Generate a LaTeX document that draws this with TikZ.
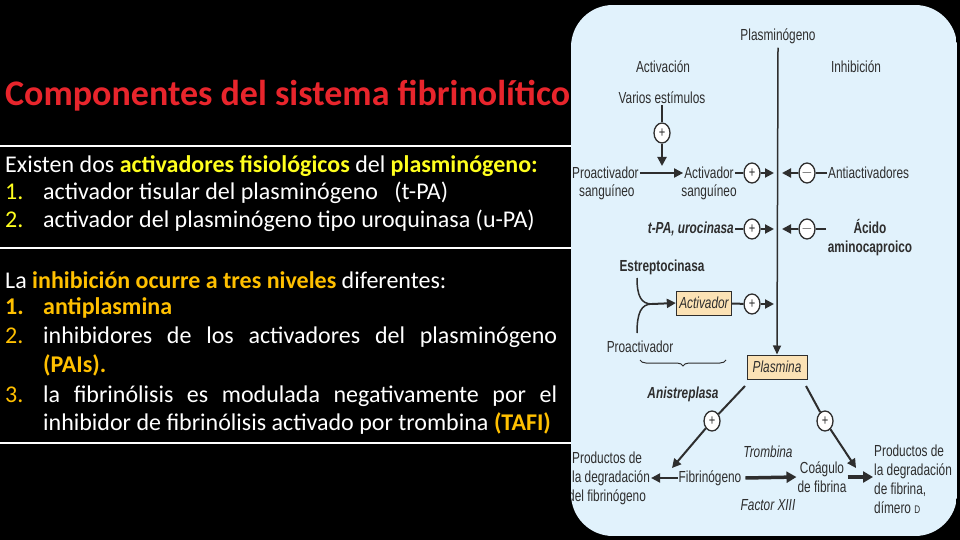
\documentclass[tikz,border=0pt]{standalone}
\usepackage{fontspec}
\setmainfont{Carlito}
\newfontfamily\diagfont[FakeStretch=0.74]{Liberation Sans}
\usetikzlibrary{arrows.meta,decorations.pathreplacing,shapes.geometric}
\definecolor{titlered}{HTML}{E8252C}
\definecolor{yel}{HTML}{FFFF1E}
\definecolor{org}{HTML}{FFC000}
\definecolor{panel}{HTML}{E1F2FC}
\definecolor{boxfill}{HTML}{FBE2B5}
\definecolor{ink}{HTML}{2E2E2E}
\tikzset{
  body/.style={anchor=base west, inner sep=0pt, text=white, font=\fontsize{24}{24}\selectfont},
  num/.style={body},
  dtext/.style={inner sep=1pt, text=ink, font=\diagfont\fontsize{16}{18}\selectfont},
  dbold/.style={dtext, font=\diagfont\bfseries\fontsize{16}{18}\selectfont},
  dital/.style={dtext, font=\diagfont\itshape\fontsize{16}{18}\selectfont},
  dboldit/.style={dtext, font=\diagfont\bfseries\itshape\fontsize{16}{18}\selectfont},
  sign/.style={ellipse, draw=ink, line width=1.3pt, fill=white, minimum width=16pt, minimum height=20pt, inner sep=0pt, text=ink, font=\diagfont\fontsize{15}{15}\selectfont},
  ybox/.style={draw=ink, line width=1pt, fill=boxfill, minimum height=24pt, inner sep=3pt, text=ink, font=\diagfont\itshape\fontsize{16}{18}\selectfont},
  thin/.style={draw=ink, line width=1.5pt},
  stub/.style={draw=ink, line width=2pt},
  arr/.style={draw=ink, line width=2pt, -{Triangle[length=9pt,width=9pt]}},
  bigarr/.style={draw=ink, line width=3.5pt, -{Triangle[length=10pt,width=11pt]}},
  hline/.style={draw=white, line width=1.3pt}
}
\begin{document}
\begin{tikzpicture}[x=1pt,y=-1pt]
\fill[black] (0,0) rectangle (960,540);
\useasboundingbox (0,0) rectangle (960,540);

% ---------- left text ----------
\node[anchor=base west, inner sep=0pt, text=titlered, font=\fontsize{36}{36}\selectfont\bfseries] (title) at (5,106) {Componentes del sistema fibrinolítico};
\coordinate (h1a) at (0,146); \coordinate (h1b) at (571,146);
\coordinate (h2a) at (0,248); \coordinate (h2b) at (571,248);
\coordinate (h3a) at (0,443); \coordinate (h3b) at (571,443);
\draw[hline] (h1a) -- (h1b);
\draw[hline, line width=2pt] (h2a) -- (h2b);
\draw[hline] (h3a) -- (h3b);

\node[body] (l1) at (5,172) {Existen dos \textcolor{yel}{\bfseries activadores fisiológicos} del \textcolor{yel}{\bfseries plasminógeno:}};
\node[num, text=yel] (n1) at (5,199) {1.};
\node[body] (l2) at (43,199) {activador tisular del plasminógeno \ \ (t-PA)};
\node[num, text=yel] (n2) at (5,227) {2.};
\node[body] (l3) at (43,227) {activador del plasminógeno tipo uroquinasa (u-PA)};

\node[body] (l4) at (5,288) {La \textcolor{org}{\bfseries inhibición ocurre a tres niveles} diferentes:};
\node[num, text=org, font=\fontsize{24}{24}\selectfont\bfseries] (n4) at (5,314) {1.};
\node[body, text=org, font=\fontsize{24}{24}\selectfont\bfseries] (l5) at (43,314) {antiplasmina};
\node[num, text=org] (n5) at (5,343) {2.};
\node[body] (l6) at (43,343) {\hbox to 514pt{inhibidores\hfill de\hfill los\hfill activadores\hfill del\hfill plasminógeno}};
\node[body, text=org, font=\fontsize{24}{24}\selectfont\bfseries] (l7) at (43,372) {(PAIs).};
\node[num, text=org] (n7) at (5,402) {3.};
\node[body] (l8) at (43,402) {\hbox to 514pt{la\hfill fibrinólisis\hfill es\hfill modulada\hfill negativamente\hfill por\hfill el}};
\node[body] (l9) at (43,430) {inhibidor de fibrinólisis activado por trombina \textcolor{org}{\bfseries (TAFI)}};

% ---------- panel ----------
\begin{scope}
\clip[rounded corners=42pt] (571,5) rectangle (957,536);
\fill[panel] (571,5) rectangle (957,536);

\node[dtext] (plg) at (778,36) {Plasminógeno};
\node[dtext] (act) at (663,67) {Activación};
\node[dtext] (inh) at (856,67) {Inhibición};
\node[dtext] (vest) at (662,98) {Varios estímulos};
\node[sign] (p1) at (662,133) {+};
\coordinate (j1) at (662,166);

\node[dtext, anchor=west] (proS) at (571,173) {Proactivador};
\node[dtext, anchor=west] (proS2) at (578,192) {sanguíneo};
\node[dtext] (actS) at (709,173) {Activador};
\node[dtext] (actS2) at (709,192) {sanguíneo};
\node[sign] (p2) at (752,173) {+};
\node[sign] (m1) at (807,173) {$-$};
\node[dtext, anchor=west] (anti) at (827,173) {Antiactivadores};

\node[dboldit, anchor=east] (tpa) at (735,229) {t-PA, urocinasa};
\node[sign] (p3) at (752,229) {+};
\node[sign] (m2) at (807,229) {$-$};
\coordinate (a0) at (826,229);
\node[dbold, align=center] (acido) at (870,238) {Ácido\\[1pt]aminocaproico};

\node[dbold] (estr) at (662,267) {Estreptocinasa};
\node[ybox] (actbox) at (704,303) {Activador};
\node[sign] (p4) at (752,304) {+};
\node[dtext] (proa) at (640,347) {Proactivador};
\node[dboldit] (anis) at (683,394) {Anistreplasa};

\node[ybox, minimum width=60pt] (plas) at (777,367) {Plasmina};
\node[sign] (p5) at (712,421) {+};
\node[sign] (p6) at (825,421) {+};

\node[dtext, anchor=west] (pdf1) at (571,458) {Productos de};
\node[dtext, anchor=west] (pdf2) at (571,478) {la degradación};
\node[dtext, anchor=west] (pdf3) at (567,497) {del fibrinógeno};
\node[dtext] (fib) at (710,478) {Fibrinógeno};
\node[dital] (trom) at (768,452) {Trombina};
\node[dital] (f13) at (768,505) {Factor XIII};
\node[dtext, align=center] (coag) at (822,477) {Coágulo\\[1pt]de fibrina};
\node[dtext, align=left, anchor=west] (pdfb) at (873,479) {Productos de\\[1pt]la degradación\\[1pt]de fibrina,\\[1pt]dímero {\fontsize{11}{11}\selectfont D}};

% main vertical line
\draw[thin, -{Triangle[length=9pt,width=8pt]}] (plg.south) ++(0,3) -- (plas.north);

% coordinates on the main line
\coordinate (t1) at (774,173);
\coordinate (t2) at (774,229);
\coordinate (t3) at (774,304);
\coordinate (u1) at (782,173);
\coordinate (u2) at (782,229);

\draw[thin] (vest.south) -- (p1);
\draw[arr] (p1) -- (j1);
\draw[arr] (proS) -- (actS);
\draw[stub] (actS) -- (p2);
\draw[arr] (p2) -- (t1);
\draw[stub] (anti) -- (m1);
\draw[arr] (m1) -- (u1);
\draw[stub] (tpa) -- (p3);
\draw[arr] (p3) -- (t2);
\draw[stub] (a0) -- (m2);
\draw[arr] (m2) -- (u2);

% streptokinase merge
\coordinate (s1) at (637,278);
\coordinate (s2) at (637,333);
\coordinate (sm) at (652,304);
\draw[thin] (s1) .. controls (637,296) and (641,304) .. (sm);
\draw[thin] (s2) .. controls (637,313) and (641,304) .. (sm);
\draw[arr] (sm) -- (actbox.west);
\draw[stub] (actbox) -- (p4);
\draw[arr] (p4) -- (t3);

% brace
\coordinate (b1) at (640,360);
\coordinate (b2) at (726,360);
\draw[ink, line width=1pt, decorate, decoration={brace, amplitude=6pt, mirror}] (b1) -- (b2);

% plasmina arrows
\coordinate (q1) at (745,386);
\coordinate (q2) at (672,468);
\coordinate (r1) at (806,386);
\coordinate (r2) at (856,468);
\draw[stub] (q1) -- (p5);
\draw[arr] (p5) -- (q2);
\draw[stub] (r1) -- (p6);
\draw[arr] (p6) -- (r2);

% bottom arrows
\draw[arr] (fib.west) -- (pdf2.east);
\draw[bigarr] (fib.east) ++(3,0) -- (coag.west);
\draw[bigarr] (coag.east) -- (coag.east -| pdfb.west);
\end{scope}
\end{tikzpicture}
\end{document}
